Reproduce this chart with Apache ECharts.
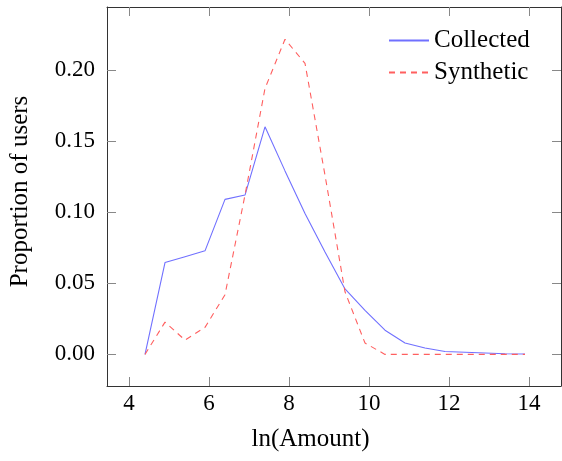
<!DOCTYPE html>
<html>
<head>
<meta charset="utf-8">
<script src="https://cdn.jsdelivr.net/npm/echarts@6/dist/echarts.min.js"></script>
<style>
html,body{margin:0;padding:0;background:#fff;}
#chart{width:562px;height:461px;}
</style>
</head>
<body>
<div id="chart"></div>
<script>
// ln(Amount) bin centres
var lnAmount = [4.4, 4.9, 5.4, 5.9, 6.4, 6.9, 7.4, 7.9, 8.4, 8.9, 9.4, 9.9, 10.4, 10.9, 11.4, 11.9, 12.4, 12.9, 13.4, 13.9];
var collected = [0.000, 0.0646, 0.0687, 0.0728, 0.109, 0.112, 0.160, 0.129, 0.099, 0.072, 0.046, 0.031, 0.017, 0.008, 0.0045, 0.002, 0.0015, 0.001, 0.0005, 0.0003];
var synthetic = [0.000, 0.0227, 0.0101, 0.019, 0.042, 0.112, 0.187, 0.2215, 0.2046, 0.126, 0.044, 0.008, 0.000, 0.000, 0.000, 0.000, 0.000, 0.000, 0.000, 0.000];
var xTicks = [4, 6, 8, 10, 12, 14];
var yTicks = [0, 0.05, 0.10, 0.15, 0.20];
var seriesNames = ['Collected', 'Synthetic'];

function pairs(xs, ys) { return xs.map(function (x, i) { return [x, ys[i]]; }); }

var FONT = '"Liberation Serif", "DejaVu Serif", serif';
var tickStyle = { show: true, inside: true, length: 9, lineStyle: { color: '#888', width: 1 } };
var lineStyleAxis = { show: true, onZero: false, lineStyle: { color: '#333', width: 1 } };

var chart = echarts.init(document.getElementById('chart'), null, { renderer: 'canvas' });
chart.setOption({
  animation: false,
  backgroundColor: '#fff',
  grid: { left: 107, top: 7, right: 1, bottom: 75, containLabel: false },
  legend: {
    orient: 'vertical',
    left: 388,
    top: 28,
    padding: 0,
    itemWidth: 40,
    itemHeight: 14,
    itemGap: 7,
    itemStyle: { opacity: 0 },
    data: seriesNames,
    textStyle: { fontFamily: FONT, fontSize: 25, color: '#000', lineHeight: 24 }
  },
  xAxis: [
    {
      type: 'value', min: 3.45, max: 14.8, position: 'bottom',
      name: 'ln(Amount)', nameLocation: 'middle', nameGap: 41,
      nameTextStyle: { fontFamily: FONT, fontSize: 25, color: '#000', padding: [0, 47, 0, 0] },
      axisLine: lineStyleAxis,
      axisTick: Object.assign({ customValues: xTicks }, tickStyle),
      axisLabel: { customValues: xTicks, margin: 6, fontFamily: FONT, fontSize: 23, color: '#000' },
      splitLine: { show: false }
    },
    {
      type: 'value', min: 3.45, max: 14.8, position: 'top',
      axisLine: lineStyleAxis,
      axisTick: Object.assign({ customValues: xTicks }, tickStyle),
      axisLabel: { show: false },
      splitLine: { show: false }
    }
  ],
  yAxis: [
    {
      type: 'value', min: -0.0222, max: 0.2442, position: 'left',
      name: 'Proportion of users', nameLocation: 'middle', nameGap: 74, nameRotate: 90,
      nameTextStyle: { fontFamily: FONT, fontSize: 25, color: '#000', padding: [0, 0, 0, 10] },
      axisLine: lineStyleAxis,
      axisTick: Object.assign({ customValues: yTicks }, tickStyle),
      axisLabel: {
        customValues: yTicks, margin: 12, fontFamily: FONT, fontSize: 23, color: '#000',
        formatter: function (v) { return v.toFixed(2); }
      },
      splitLine: { show: false }
    },
    {
      type: 'value', min: -0.0222, max: 0.2442, position: 'right',
      axisLine: lineStyleAxis,
      axisTick: Object.assign({ customValues: yTicks }, tickStyle),
      axisLabel: { show: false },
      splitLine: { show: false }
    }
  ],
  series: [
    {
      name: seriesNames[0], type: 'line', xAxisIndex: 0, yAxisIndex: 0,
      data: pairs(lnAmount, collected), symbol: 'none',
      lineStyle: { color: '#7070ff', width: 1.1 }, itemStyle: { color: '#7070ff' }
    },
    {
      name: seriesNames[1], type: 'line', xAxisIndex: 0, yAxisIndex: 0,
      data: pairs(lnAmount, synthetic), symbol: 'none',
      lineStyle: { color: '#ff5f5f', width: 1.1, type: [6, 5] }, itemStyle: { color: '#ff5f5f' }
    }
  ]
});
</script>
</body>
</html>
